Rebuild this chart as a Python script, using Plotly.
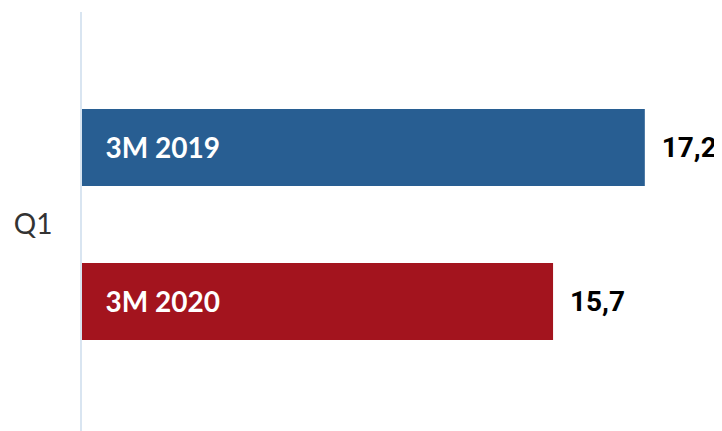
import plotly.graph_objects as go

categories = ["Q1"]
series_names = ["3M 2019", "3M 2020"]
values_2019 = [17.2]
values_2020 = [15.7]
value_labels_2019 = ["17,2"]
value_labels_2020 = ["15,7"]
colors = ["#285E92", "#A3141E"]
x_min = 8
x_max = 18.2

fig = go.Figure()

series = [
    (series_names[0], values_2019, value_labels_2019, colors[0]),
    (series_names[1], values_2020, value_labels_2020, colors[1]),
]

# visible bars with value labels outside
for name, vals, labs, col in series:
    fig.add_trace(go.Bar(
        y=categories, x=vals, orientation="h", name=name,
        marker=dict(color=col, line=dict(width=0)),
        text=["\u00a0\u00a0" + t for t in labs], textposition="outside",
        outsidetextfont=dict(family="Roboto", size=28, color="#000000", weight="bold"),
        cliponaxis=False, constraintext="none", showlegend=False, hoverinfo="skip",
        xaxis="x", yaxis="y",
    ))

# transparent overlay bars carrying the series names inside, starting at axis minimum
for name, vals, labs, col in series:
    fig.add_trace(go.Bar(
        y=categories, x=[v - x_min for v in vals], base=[x_min] * len(vals),
        orientation="h", name=name,
        marker=dict(color="rgba(0,0,0,0)", line=dict(width=0)),
        text=["\u00a0\u00a0\u00a0" + name], textposition="inside", insidetextanchor="start",
        insidetextfont=dict(family="Lato", size=28, color="#FFFFFF", weight="bold"),
        constraintext="none", showlegend=False, hoverinfo="skip",
        xaxis="x", yaxis="y2",
    ))

yr = [-0.507, 0.493]
fig.update_layout(
    width=722, height=431,
    margin=dict(l=74, r=24, t=4, b=8, autoexpand=False),
    paper_bgcolor="white", plot_bgcolor="white",
    barmode="group", bargap=0.265, bargroupgap=0.5,
    xaxis=dict(range=[x_min, x_max], visible=False, showgrid=False, zeroline=False, automargin=False),
    yaxis=dict(range=[yr[1], yr[0]], type="category", showgrid=False, zeroline=False,
               showline=True, linecolor="#D9E5F1", linewidth=2, automargin=False,
               ticks="", ticklabelstandoff=22,
               tickfont=dict(family="Lato", size=28, color="#333333")),
    yaxis2=dict(range=[yr[1], yr[0]], type="category", overlaying="y", visible=False, automargin=False),
)

fig.write_html("out.html")
